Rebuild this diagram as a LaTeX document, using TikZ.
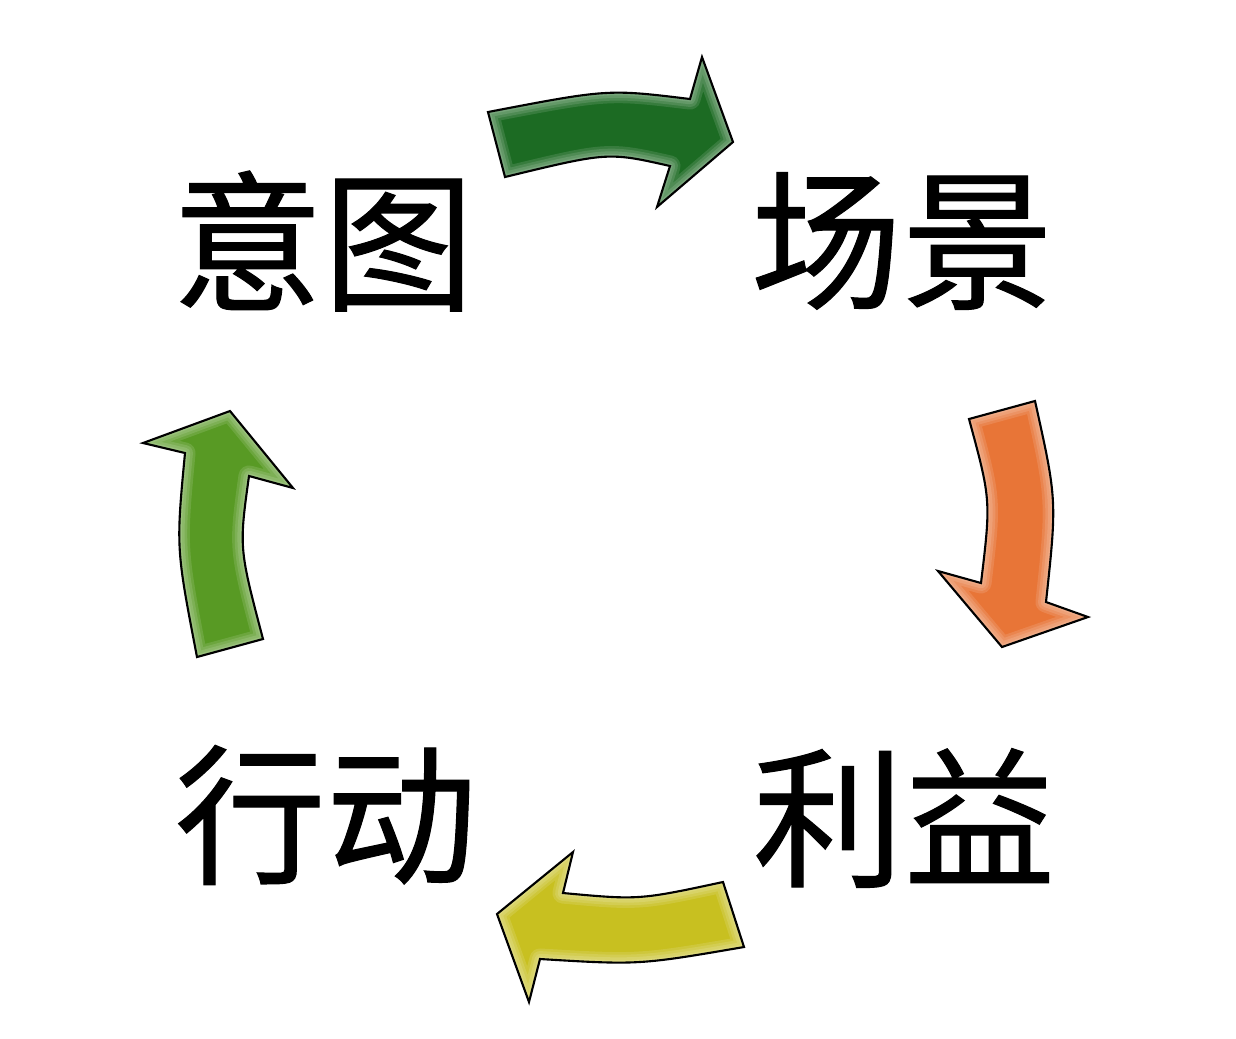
\documentclass[tikz,border=0pt]{standalone}
\usepackage{fontspec}
\newfontfamily\cjk[FakeBold=0.7]{Noto Sans CJK SC}
\definecolor{cA}{RGB}{28,107,35}
\definecolor{cB}{RGB}{232,117,55}
\definecolor{cC}{RGB}{200,192,32}
\definecolor{cD}{RGB}{88,154,36}
\newcommand\arrowA{(488,112) .. controls (608,89) .. (690,99) -- (702,57) -- (733,142) -- (657,207) -- (670,166) .. controls (608,152) .. (505,177) -- cycle}
\newcommand\arrowB{(969,419) -- (1035,401) .. controls (1057,500) .. (1046,602) -- (1088,617) -- (1002,647) -- (938,571) -- (981,583) .. controls (991,500) .. (969,419) -- cycle}
\newcommand\arrowC{(723,882) -- (744,947) .. controls (639,965) .. (540,959) -- (529,1002) -- (497,914) -- (573,852) -- (563,893) .. controls (639,900) .. (723,882) -- cycle}
\newcommand\arrowD{(197,657) -- (263,639) .. controls (239,548) .. (249,476) -- (293,488) -- (230,411) -- (143,443) -- (185,453) .. controls (176,548) .. (197,657) -- cycle}
\tikzset{
  label/.style={font=\cjk\fontsize{43pt}{43pt}\selectfont, inner sep=0pt},
  outline/.style={draw=black, line width=0.6pt, line join=miter},
}
\newcommand\bevelarrow[2]{%
  \fill[#2] #1;
  \begin{scope}
    \clip #1;
    \foreach \w in {6,4.5,3,1.5}{%
      \draw[white, opacity=0.12, line width=\w pt, line join=round] #1;
    }
  \end{scope}
  \draw[outline] #1;
}
\begin{document}
\begin{tikzpicture}[x=0.01cm, y=-0.01cm]
\useasboundingbox (0,0) rectangle (1236,1038);
\fill[white] (0,0) rectangle (1236,1038);
\bevelarrow{\arrowA}{cA}
\bevelarrow{\arrowB}{cB}
\bevelarrow{\arrowC}{cC}
\bevelarrow{\arrowD}{cD}
\node[label] (yitu) at (323,241) {意图};
\node[label] (changjing) at (902,241) {场景};
\node[label] (liyi) at (904,818) {利益};
\node[label] (xingdong) at (326,815) {行动};
\end{tikzpicture}
\end{document}
